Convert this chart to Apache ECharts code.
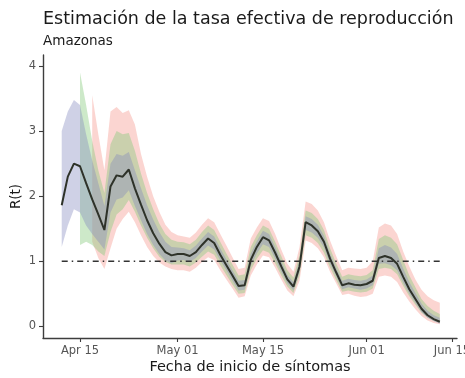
<!DOCTYPE html>
<html>
<head>
<meta charset="utf-8">
<script src="https://cdn.jsdelivr.net/npm/echarts@6/dist/echarts.min.js"></script>
<style>
  html, body { margin: 0; padding: 0; background: #ffffff; }
  #chart { width: 465px; height: 378px; }
</style>
</head>
<body>
<div id="chart"></div>
<script>
// Daily estimates of R(t), Amazonas, 12 Apr – 13 Jun 2020.
// x is the day count from 12 Apr.

// median estimate
const rMedian = [
  1.86, 2.30, 2.50, 2.46, 2.20, 1.95, 1.72, 1.48, 2.15, 2.32,
  2.30, 2.41, 2.12, 1.87, 1.63, 1.43, 1.27, 1.14, 1.09, 1.11,
  1.11, 1.08, 1.14, 1.25, 1.35, 1.28, 1.10, 0.94, 0.78, 0.62,
  0.63, 1.02, 1.22, 1.37, 1.32, 1.13, 0.92, 0.72, 0.61, 0.92,
  1.60, 1.55, 1.46, 1.30, 1.04, 0.83, 0.63, 0.66, 0.64, 0.63,
  0.65, 0.70, 1.05, 1.08, 1.05, 0.96, 0.76, 0.57, 0.42, 0.27,
  0.17, 0.11, 0.07
];

// widest credible band (starts 17 Apr)
const redLower = [
  null, null, null, null, null, 1.30, 1.05, 0.88, 1.20, 1.50,
  1.65, 1.76, 1.60, 1.40, 1.22, 1.08, 0.98, 0.92, 0.88, 0.86,
  0.86, 0.84, 0.90, 0.99, 1.06, 1.02, 0.86, 0.72, 0.58, 0.44,
  0.46, 0.78, 0.95, 1.09, 1.06, 0.90, 0.72, 0.55, 0.46, 0.70,
  1.32, 1.28, 1.20, 1.06, 0.84, 0.66, 0.48, 0.50, 0.47, 0.45,
  0.46, 0.50, 0.76, 0.78, 0.76, 0.68, 0.52, 0.38, 0.26, 0.16,
  0.09, 0.05, 0.03
];
const redUpper = [
  null, null, null, null, null, 3.55, 2.95, 2.40, 3.30, 3.37,
  3.28, 3.32, 3.10, 2.65, 2.30, 2.00, 1.76, 1.56, 1.45, 1.40,
  1.38, 1.36, 1.44, 1.56, 1.66, 1.60, 1.42, 1.24, 1.06, 0.88,
  0.90, 1.35, 1.52, 1.66, 1.62, 1.42, 1.18, 0.96, 0.84, 1.22,
  1.92, 1.88, 1.78, 1.60, 1.32, 1.08, 0.86, 0.90, 0.89, 0.88,
  0.90, 1.00, 1.52, 1.58, 1.55, 1.42, 1.15, 0.92, 0.72, 0.56,
  0.46, 0.40, 0.36
];

// middle band (starts 15 Apr)
const greenLower = [
  null, null, null, 1.25, 1.30, 1.25, 1.15, 1.08, 1.45, 1.72,
  1.80, 1.94, 1.76, 1.55, 1.36, 1.20, 1.07, 0.99, 0.95, 0.95,
  0.95, 0.92, 0.98, 1.07, 1.15, 1.10, 0.94, 0.79, 0.64, 0.50,
  0.51, 0.86, 1.04, 1.17, 1.13, 0.97, 0.78, 0.61, 0.51, 0.78,
  1.40, 1.36, 1.28, 1.13, 0.90, 0.71, 0.53, 0.55, 0.53, 0.52,
  0.53, 0.58, 0.88, 0.90, 0.88, 0.80, 0.62, 0.46, 0.33, 0.21,
  0.13, 0.08, 0.05
];
const greenUpper = [
  null, null, null, 3.90, 3.40, 2.85, 2.40, 2.05, 2.80, 3.00,
  2.95, 2.97, 2.70, 2.35, 2.05, 1.80, 1.58, 1.42, 1.33, 1.30,
  1.29, 1.26, 1.33, 1.45, 1.55, 1.48, 1.30, 1.12, 0.95, 0.78,
  0.80, 1.22, 1.40, 1.55, 1.50, 1.30, 1.08, 0.86, 0.75, 1.10,
  1.78, 1.74, 1.65, 1.48, 1.20, 0.97, 0.76, 0.80, 0.78, 0.77,
  0.79, 0.86, 1.34, 1.40, 1.36, 1.26, 1.02, 0.78, 0.60, 0.42,
  0.31, 0.24, 0.19
];

// narrow band (starts 12 Apr)
const blueLower = [
  1.22, 1.55, 1.80, 1.75, 1.55, 1.42, 1.30, 1.18, 1.75, 1.95,
  1.98, 2.09, 1.85, 1.63, 1.42, 1.25, 1.11, 1.01, 0.97, 1.01,
  1.02, 0.99, 1.05, 1.15, 1.24, 1.18, 1.01, 0.86, 0.70, 0.55,
  0.56, 0.93, 1.12, 1.26, 1.22, 1.04, 0.84, 0.66, 0.55, 0.84,
  1.48, 1.44, 1.36, 1.21, 0.96, 0.77, 0.57, 0.60, 0.58, 0.56,
  0.58, 0.63, 0.96, 0.97, 0.94, 0.86, 0.67, 0.50, 0.36, 0.22,
  0.13, 0.08, 0.04
];
const blueUpper = [
  3.00, 3.30, 3.48, 3.40, 2.95, 2.55, 2.20, 1.85, 2.50, 2.65,
  2.62, 2.68, 2.40, 2.12, 1.86, 1.64, 1.45, 1.30, 1.22, 1.21,
  1.20, 1.17, 1.24, 1.35, 1.45, 1.38, 1.20, 1.03, 0.86, 0.70,
  0.71, 1.12, 1.31, 1.47, 1.42, 1.22, 1.00, 0.79, 0.68, 1.01,
  1.69, 1.65, 1.56, 1.39, 1.12, 0.90, 0.70, 0.73, 0.71, 0.70,
  0.72, 0.78, 1.20, 1.25, 1.21, 1.11, 0.89, 0.68, 0.51, 0.35,
  0.24, 0.17, 0.13
];

const thresholdR = 1;

// tick positions in days from 12 Apr, and their labels
const xTickDays = [3, 19, 33, 50, 64];
const xTickLabels = ['Apr 15', 'May 01', 'May 15', 'Jun 01', 'Jun 15'];
const yTicks = [0, 1, 2, 3, 4];

const days = rMedian.map((_, i) => i);

// one filled polygon per credible band, projected through the chart axes
function band(name, lower, upper, fill) {
  const rows = [];
  for (let i = 0; i < days.length; i++) {
    if (lower[i] != null && upper[i] != null) rows.push([days[i], lower[i], upper[i]]);
  }
  return {
    type: 'custom',
    name: name,
    data: rows,
    encode: { x: 0, y: [1, 2] },
    silent: true,
    z: 1,
    renderItem: function (params, api) {
      if (params.dataIndex !== 0) return null;
      const top = rows.map(r => api.coord([r[0], r[2]]));
      const bottom = rows.map(r => api.coord([r[0], r[1]])).reverse();
      return {
        type: 'polygon',
        shape: { points: top.concat(bottom) },
        style: { fill: fill, stroke: null }
      };
    }
  };
}

const axisColor = '#3d3d3d';
const chart = echarts.init(document.getElementById('chart'), null, { renderer: 'canvas' });
chart.setOption({
  animation: false,
  backgroundColor: '#ffffff',
  textStyle: { fontFamily: 'DejaVu Sans' },
  title: {
    text: 'Estimación de la tasa efectiva de reproducción',
    subtext: 'Amazonas',
    left: 38,
    top: 4,
    itemGap: 5,
    textStyle: { fontFamily: 'DejaVu Sans', fontSize: 17.5, fontWeight: 'normal', color: '#1a1a1a', lineHeight: 20 },
    subtextStyle: { fontFamily: 'DejaVu Sans', fontSize: 13.5, color: '#1a1a1a', lineHeight: 15 }
  },
  grid: { left: 43, right: 8, top: 55, bottom: 40, outerBoundsMode: 'none', containLabel: false },
  xAxis: {
    type: 'value',
    min: -3.07,
    max: 64.82,
    splitLine: { show: false },
    axisLine: { onZero: false, lineStyle: { color: axisColor, width: 1.4 } },
    axisTick: { show: true, customValues: xTickDays, length: 4, lineStyle: { color: axisColor, width: 1.1 } },
    axisLabel: {
      customValues: xTickDays,
      margin: 7,
      fontSize: 11.5,
      color: '#555555',
      fontFamily: 'DejaVu Sans',
      hideOverlap: false,
      formatter: function (v) {
        const k = xTickDays.indexOf(v);
        return k >= 0 ? xTickLabels[k] : '';
      }
    },
    name: 'Fecha de inicio de síntomas',
    nameLocation: 'middle',
    nameGap: 22,
    nameMoveOverlap: false,
    nameTextStyle: { fontFamily: 'DejaVu Sans', fontSize: 14.5, color: '#1a1a1a' }
  },
  yAxis: {
    type: 'value',
    min: -0.18,
    max: 4.17,
    splitLine: { show: false },
    axisLine: { show: true, onZero: false, lineStyle: { color: axisColor, width: 1.4 } },
    axisTick: { show: true, customValues: yTicks, length: 4, lineStyle: { color: axisColor, width: 1.1 } },
    axisLabel: { customValues: yTicks, margin: 7, fontSize: 11.5, color: '#555555', fontFamily: 'DejaVu Sans' },
    name: 'R(t)',
    nameLocation: 'middle',
    nameGap: 20,
    nameRotate: 90,
    nameMoveOverlap: false,
    nameTextStyle: { fontFamily: 'DejaVu Sans', fontSize: 13.5, color: '#1a1a1a' }
  },
  series: [
    band('red', redLower, redUpper, 'rgba(245,150,140,0.40)'),
    band('green', greenLower, greenUpper, 'rgba(130,200,120,0.40)'),
    band('blue', blueLower, blueUpper, 'rgba(130,133,190,0.38)'),
    {
      type: 'line',
      name: 'R = 1',
      data: [[days[0], thresholdR], [days[days.length - 1], thresholdR]],
      showSymbol: false,
      silent: true,
      z: 3,
      lineStyle: { color: '#333333', width: 1.4, type: [6, 4, 1.5, 4] }
    },
    {
      type: 'line',
      name: 'R(t)',
      data: days.map(d => [d, rMedian[d]]),
      showSymbol: false,
      silent: true,
      z: 4,
      lineStyle: { color: '#2e3229', width: 2 }
    }
  ]
});
</script>
</body>
</html>
